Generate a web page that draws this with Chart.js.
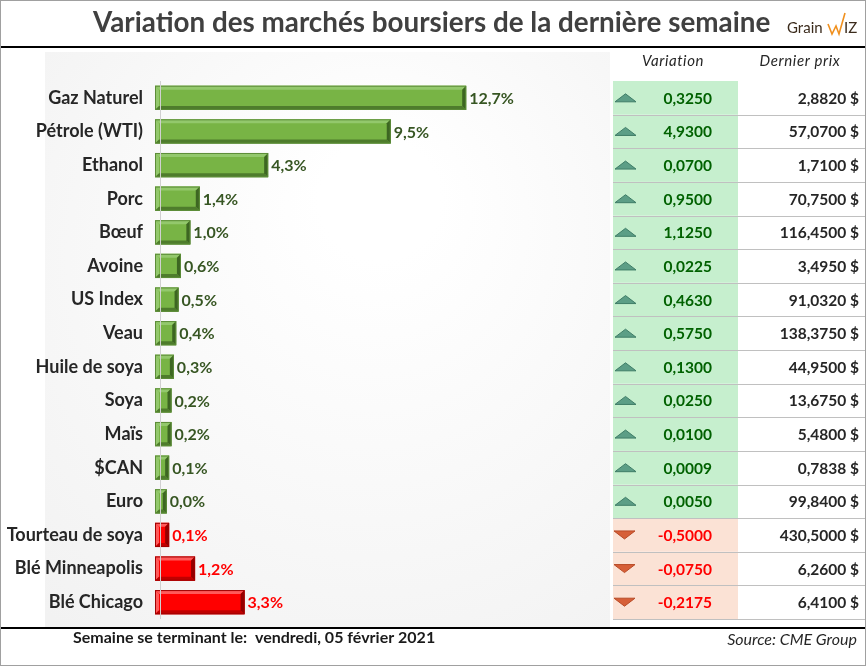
<!DOCTYPE html>
<html>
<head>
<meta charset="utf-8">
<script src="https://cdn.jsdelivr.net/npm/chart.js@4.4.1/dist/chart.umd.min.js"></script>
<style>
  html, body { margin: 0; padding: 0; background: #ffffff; }
  #wrap { width: 866px; height: 666px; position: relative; }
</style>
</head>
<body>
<div id="wrap"><canvas id="marketChart"></canvas></div>
<script>
// Données
const categories = ['Gaz Naturel', 'Pétrole (WTI)', 'Ethanol', 'Porc', 'Bœuf', 'Avoine', 'US Index', 'Veau',
    'Huile de soya', 'Soya', 'Maïs', '$CAN', 'Euro', 'Tourteau de soya', 'Blé Minneapolis', 'Blé Chicago'];
const pctChange = [12.7, 9.5, 4.3, 1.4, 1.0, 0.6, 0.5, 0.4, 0.3, 0.2, 0.2, 0.1, 0.0, -0.1, -1.2, -3.3];
const variation = [0.3250, 4.9300, 0.0700, 0.9500, 1.1250, 0.0225, 0.4630, 0.5750, 0.1300, 0.0250, 0.0100,
    0.0009, 0.0050, -0.5000, -0.0750, -0.2175];
const lastPrice = [2.8820, 57.0700, 1.7100, 70.7500, 116.4500, 3.4950, 91.0320, 138.3750, 44.9500, 13.6750,
    5.4800, 0.7838, 99.8400, 430.5000, 6.2600, 6.4100];

const titleText = 'Variation des marchés boursiers de la dernière semaine';
const footerText = 'Semaine se terminant le:  vendredi, 05 février 2021';
const sourceText = 'Source: CME Group';
const colHeaders = ['Variation', 'Dernier prix'];

const FONT = 'Lato, "Open Sans", sans-serif';
const AXIS_MIN = -0.5;

function frNumber(v, digits) {
    return v.toFixed(digits).replace('.', ',');
}

const isUp = pctChange.map(v => v >= 0);

const pageBackground = {
    id: 'pageBackground',
    beforeDraw(chart) {
        const { ctx, width, height } = chart;
        ctx.save();
        ctx.fillStyle = '#ffffff';
        ctx.fillRect(0, 0, width, height);
        // panneau légèrement ombré derrière les barres
        const g = ctx.createRadialGradient(380, 200, 60, 360, 300, 480);
        g.addColorStop(0, '#ffffff');
        g.addColorStop(1, '#f1f1f1');
        ctx.fillStyle = g;
        ctx.fillRect(45, 52, 565, 575);
        ctx.restore();
    }
};

const barBevel = {
    id: 'barBevel',
    afterDatasetsDraw(chart) {
        const { ctx } = chart;
        const meta = chart.getDatasetMeta(0);
        ctx.save();
        meta.data.forEach((bar, i) => {
            const { x, y, base, height } = bar.getProps(['x', 'y', 'base', 'height'], true);
            const top = y - height / 2, bot = y + height / 2;
            const b = 4;
            const up = isUp[i];
            const shades = up
                ? { light: '#93c86c', dark: '#4e7c2c', darker: '#3d6622' }
                : { light: '#ff5a5a', dark: '#c00000', darker: '#930000' };
            const poly = (pts, col) => {
                ctx.beginPath();
                ctx.moveTo(pts[0][0], pts[0][1]);
                pts.slice(1).forEach(p => ctx.lineTo(p[0], p[1]));
                ctx.closePath();
                ctx.fillStyle = col;
                ctx.fill();
            };
            poly([[base, top], [x, top], [x - b, top + b], [base + b, top + b]], shades.light);
            poly([[base, top], [base + b, top + b], [base + b, bot - b], [base, bot]], shades.light);
            poly([[base, bot], [x, bot], [x - b, bot - b], [base + b, bot - b]], shades.dark);
            poly([[x, top], [x - b, top + b], [x - b, bot - b], [x, bot]], shades.darker);
            ctx.strokeStyle = up ? '#5c8c38' : '#a00000';
            ctx.lineWidth = 1;
            ctx.strokeRect(base + 0.5, top + 0.5, x - base - 1, height - 1);

            // étiquette en %
            ctx.font = 'bold 16px ' + FONT;
            ctx.fillStyle = up ? '#375623' : '#ff0000';
            ctx.textAlign = 'left';
            ctx.textBaseline = 'middle';
            ctx.fillText(frNumber(Math.abs(pctChange[i]), 1) + '%', x + 3, y + 1);
        });
        ctx.restore();
    }
};

const sideTable = {
    id: 'sideTable',
    afterDraw(chart) {
        const { ctx, scales: { y } } = chart;
        const rowH = y.height / categories.length;
        const colL = 613, colM = 738, colR = 866;
        ctx.save();

        // en-têtes
        ctx.font = 'italic 15px ' + FONT;
        ctx.fillStyle = '#262626';
        ctx.textAlign = 'center';
        ctx.textBaseline = 'middle';
        ctx.letterSpacing = '0.6px';
        ctx.fillText(colHeaders[0], 673, 61);
        ctx.fillText(colHeaders[1], 800, 61);
        ctx.letterSpacing = '0px';

        categories.forEach((c, i) => {
            const cy = y.getPixelForValue(i);
            const top = cy - rowH / 2;
            ctx.fillStyle = isUp[i] ? '#c6efce' : '#fbe2d5';
            ctx.fillRect(colL, top, colM - colL, rowH);
        });

        ctx.strokeStyle = '#c0c0c0';
        ctx.lineWidth = 1;
        categories.forEach((c, i) => {
            const yy = Math.round(y.getPixelForValue(i) + rowH / 2) + 0.5;
            ctx.beginPath();
            ctx.moveTo(colL, yy);
            ctx.lineTo(colR, yy);
            ctx.stroke();
        });

        categories.forEach((c, i) => {
            const cy = y.getPixelForValue(i);
            const up = isUp[i];
            // flèche
            ctx.beginPath();
            if (up) {
                ctx.moveTo(615, cy + 4);
                ctx.lineTo(625.5, cy - 4);
                ctx.lineTo(636, cy + 4);
                ctx.fillStyle = '#5c9e86';
                ctx.strokeStyle = '#3f7d67';
            } else {
                ctx.moveTo(614, cy - 4);
                ctx.lineTo(635, cy - 4);
                ctx.lineTo(624.5, cy + 4);
                ctx.fillStyle = '#d65f38';
                ctx.strokeStyle = '#b84a26';
            }
            ctx.closePath();
            ctx.fill();
            ctx.stroke();

            ctx.font = 'bold 15.5px ' + FONT;
            ctx.textAlign = 'right';
            ctx.textBaseline = 'middle';
            ctx.fillStyle = up ? '#006100' : '#ff0000';
            ctx.fillText(frNumber(variation[i], 4), 712, cy + 1);
            ctx.fillStyle = '#262626';
            ctx.fillText(frNumber(lastPrice[i], 4) + ' $', 859, cy + 1);
        });
        ctx.restore();
    }
};

const frame = {
    id: 'frame',
    afterDraw(chart) {
        const { ctx, width, height } = chart;
        ctx.save();
        // titre
        let size = 26;
        ctx.font = 'bold ' + size + 'px ' + FONT;
        const w = ctx.measureText(titleText).width;
        size = size * 677 / w;
        ctx.font = 'bold ' + size.toFixed(1) + 'px ' + FONT;
        ctx.fillStyle = '#404040';
        ctx.textAlign = 'left';
        ctx.textBaseline = 'middle';
        ctx.fillText(titleText, 93, 23);

        // logo
        ctx.font = '15px ' + FONT;
        ctx.fillStyle = '#3b2b1c';
        ctx.fillText('Grain', 787, 28);
        ctx.strokeStyle = '#f0901e';
        ctx.lineWidth = 1.6;
        ctx.beginPath();
        ctx.moveTo(828, 24);
        ctx.lineTo(832, 34);
        ctx.lineTo(836, 26);
        ctx.lineTo(839, 34);
        ctx.lineTo(845, 13);
        ctx.stroke();
        ctx.fillText('IZ', 844, 28);

        // lignes noires
        ctx.fillStyle = '#000000';
        ctx.fillRect(0, 46, width, 2);
        ctx.fillRect(0, 627, width, 2);

        // pied de page
        ctx.font = 'bold 16px ' + FONT;
        ctx.fillStyle = '#1a1a1a';
        ctx.textAlign = 'left';
        ctx.fillText(footerText, 73, 638);
        ctx.font = 'italic 16px ' + FONT;
        ctx.fillStyle = '#262626';
        ctx.textAlign = 'right';
        ctx.fillText(sourceText, 857, 640);

        // cadre
        ctx.strokeStyle = '#a0a0a0';
        ctx.lineWidth = 1;
        ctx.strokeRect(0.5, 0.5, width - 1, height - 1);
        ctx.restore();
    }
};

function drawChart() {
    const ctx = document.getElementById('marketChart').getContext('2d');

    const data = {
        labels: categories,
        datasets: [{
            data: pctChange.map(v => Math.abs(v)),
            base: AXIS_MIN,
            backgroundColor: pctChange.map(v => v >= 0 ? '#78b445' : '#ff0000'),
            borderWidth: 0,
            barPercentage: 0.9,
            categoryPercentage: 0.8
        }]
    };

    const options = {
        indexAxis: 'y',
        responsive: true,
        maintainAspectRatio: false,
        animation: false,
        devicePixelRatio: 1,
        layout: { padding: { top: 81, bottom: 47, right: 256, left: 0 } },
        plugins: {
            legend: { display: false },
            tooltip: { enabled: false }
        },
        scales: {
            x: {
                min: AXIS_MIN,
                max: 18.8,
                afterBuildTicks: scale => { scale.ticks = [{ value: -0.25 }]; },
                afterFit: scale => { scale.height = 0; },
                ticks: { display: false },
                border: { display: false },
                grid: { color: '#d0d0d0', drawTicks: false, z: 1 }
            },
            y: {
                afterFit: scale => { scale.width = 155; },
                border: { display: false },
                grid: { display: false, drawTicks: false },
                ticks: {
                    padding: 12,
                    color: '#262626',
                    font: { family: FONT, size: 18, weight: 'bold' }
                }
            }
        }
    };

    new Chart(ctx, {
        type: 'bar',
        data: data,
        options: options,
        plugins: [pageBackground, barBevel, sideTable, frame]
    });
}

drawChart();
</script>
</body>
</html>
